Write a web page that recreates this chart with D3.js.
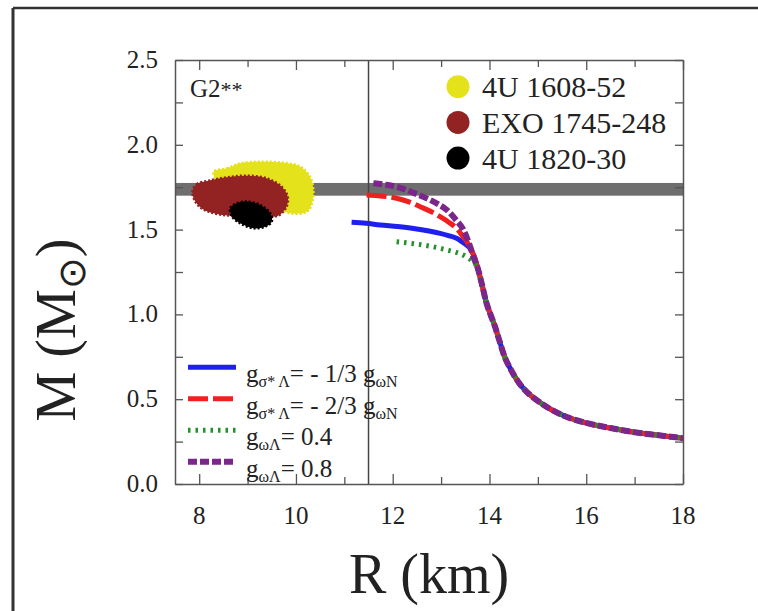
<!DOCTYPE html>
<html>
<head>
<meta charset="utf-8">
<script src="https://cdn.jsdelivr.net/npm/d3@7"></script>
<style>
  html, body { margin: 0; padding: 0; background: #fff; }
  svg { display: block; }
</style>
</head>
<body>
<div id="chart"></div>
<script>
// ---- data ----
const xTickValues = [8, 9, 10, 11, 12, 13, 14, 15, 16, 17, 18];
const xTickLabels = [8, 10, 12, 14, 16, 18];
const yTickValues = [0, 0.25, 0.5, 0.75, 1, 1.25, 1.5, 1.75, 2, 2.25, 2.5];
const yTickLabels = [0, 0.5, 1, 1.5, 2, 2.5];

const markerR = 11.5;              // vertical reference line
const bandM = [1.70, 1.775];       // grey mass band

// common low-mass branch of all four parameter sets
const tailR = [13.76, 13.85, 13.94, 14.02, 14.1, 14.2, 14.3, 14.45, 14.6, 14.8, 15.0, 15.3, 15.6, 16.0, 16.5, 17.0, 17.5, 18.0];
const tailM = [1.27, 1.17, 1.065, 1.0, 0.94, 0.85, 0.76, 0.67, 0.60, 0.535, 0.49, 0.435, 0.395, 0.36, 0.33, 0.305, 0.287, 0.27];

const blueR = [11.15, 11.45, 11.74, 12.1, 12.43, 12.75, 12.98, 13.15, 13.32, 13.45, 13.53, 13.62, 13.70];
const blueM = [1.543, 1.537, 1.527, 1.518, 1.507, 1.492, 1.478, 1.465, 1.449, 1.425, 1.409, 1.38, 1.33];
const redR = [11.46, 11.75, 12.08, 12.35, 12.57, 12.8, 12.98, 13.15, 13.32, 13.45, 13.53, 13.62, 13.70];
const redM = [1.704, 1.698, 1.685, 1.662, 1.635, 1.605, 1.576, 1.545, 1.507, 1.46, 1.43, 1.38, 1.33];
const greenR = [12.08, 12.35, 12.63, 12.9, 13.12, 13.3, 13.46, 13.58, 13.70];
const greenM = [1.429, 1.42, 1.409, 1.395, 1.38, 1.367, 1.35, 1.33, 1.30];
const purpleR = [11.6, 11.85, 12.08, 12.4, 12.77, 12.95, 13.12, 13.3, 13.46, 13.6, 13.68];
const purpleM = [1.773, 1.765, 1.753, 1.72, 1.675, 1.648, 1.616, 1.56, 1.50, 1.40, 1.33];

// observational regions (contours in R, M)
const yellowR = [8.30, 8.57, 8.85, 9.26, 9.74, 10.09, 10.29, 10.36, 10.33, 10.23, 9.88, 9.67, 9.05, 8.37];
const yellowM = [1.842, 1.861, 1.891, 1.900, 1.894, 1.871, 1.812, 1.733, 1.655, 1.606, 1.596, 1.626, 1.792, 1.792];
const brownR = [7.86, 7.95, 8.19, 8.57, 8.99, 9.40, 9.69, 9.83, 9.80, 9.63, 9.26, 8.37, 8.07, 7.92];
const brownM = [1.724, 1.768, 1.788, 1.808, 1.818, 1.802, 1.757, 1.694, 1.632, 1.582, 1.575, 1.592, 1.622, 1.665];
const blackR = [8.64, 8.78, 8.99, 9.26, 9.47, 9.50, 9.36, 9.12, 8.85, 8.68];
const blackM = [1.626, 1.655, 1.665, 1.645, 1.596, 1.547, 1.517, 1.508, 1.537, 1.576];

const sourceNames = ["4U 1608-52", "EXO 1745-248", "4U 1820-30"];
const sourceColors = ["#e4e21a", "#932222", "#000000"];

const zip = (xs, ys) => xs.map((v, i) => ({r: v, m: ys[i]}));

const series = [
  {key: "blue", pts: zip(blueR.concat(tailR), blueM.concat(tailM)), color: "#1f1fee", dash: null, width: 5,
   label: [["g", false], ["σ* Λ", true], ["= - 1/3 ", false], ["g", false], ["ωN", true]]},
  {key: "red", pts: zip(redR.concat(tailR), redM.concat(tailM)), color: "#f02020", dash: "20,5", width: 5,
   label: [["g", false], ["σ* Λ", true], ["= - 2/3 ", false], ["g", false], ["ωN", true]]},
  {key: "green", pts: zip(greenR.concat(tailR), greenM.concat(tailM)), color: "#22922a", dash: "2.5,5", width: 5,
   label: [["g", false], ["ωΛ", true], ["= 0.4", false]]},
  {key: "purple", pts: zip(purpleR.concat(tailR), purpleM.concat(tailM)), color: "#7a268a", dash: "9,3", width: 6,
   label: [["g", false], ["ωΛ", true], ["= 0.8", false]]}
];

const regions = [
  {pts: zip(yellowR, yellowM), color: sourceColors[0]},
  {pts: zip(brownR, brownM), color: sourceColors[1]},
  {pts: zip(blackR, blackM), color: sourceColors[2]}
];

// ---- layout ----
const W = 758, H = 611;
const margin = {top: 60, right: 75, bottom: 127, left: 175};
const width = W - margin.left - margin.right;
const height = H - margin.top - margin.bottom;
const serif = "'Liberation Serif', 'Times New Roman', Times, serif";

const svg = d3.select("#chart").append("svg")
  .attr("width", W).attr("height", H)
  .attr("viewBox", `0 0 ${W} ${H}`)
  .attr("font-family", serif);

// page frame lines
svg.append("line").attr("x1", 13).attr("x2", W).attr("y1", 8).attr("y2", 8)
  .attr("stroke", "#333").attr("stroke-width", 2.5);
svg.append("line").attr("x1", 13).attr("x2", 13).attr("y1", 8).attr("y2", H)
  .attr("stroke", "#333").attr("stroke-width", 3);

const g = svg.append("g").attr("transform", `translate(${margin.left},${margin.top})`);

const xScale = d3.scaleLinear().domain([7.5, 18]).range([0, width]);
const yScale = d3.scaleLinear().domain([0, 2.5]).range([height, 0]);

g.append("defs").append("clipPath").attr("id", "plotclip")
  .append("rect").attr("width", width).attr("height", height);

const plot = g.append("g").attr("clip-path", "url(#plotclip)");

// grey band
plot.append("rect")
  .attr("x", 0).attr("width", width)
  .attr("y", yScale(bandM[1])).attr("height", yScale(bandM[0]) - yScale(bandM[1]))
  .attr("fill", "#6e6e6e");

// regions
const area = d3.line().x(d => xScale(d.r)).y(d => yScale(d.m)).curve(d3.curveCatmullRomClosed.alpha(0.5));
plot.selectAll(".region").data(regions).enter().append("path")
  .attr("class", "region")
  .attr("d", d => area(d.pts))
  .attr("fill", d => d.color)
  .attr("stroke", d => d.color)
  .attr("stroke-width", 2.5)
  .attr("stroke-dasharray", "2,2");

// vertical reference line
plot.append("line")
  .attr("x1", xScale(markerR)).attr("x2", xScale(markerR))
  .attr("y1", 0).attr("y2", height)
  .attr("stroke", "#444").attr("stroke-width", 1.5);

// curves
const line = d3.line().x(d => xScale(d.r)).y(d => yScale(d.m)).curve(d3.curveMonotoneX);
plot.selectAll(".curve").data(series).enter().append("path")
  .attr("class", "curve")
  .attr("d", d => line(d.pts))
  .attr("fill", "none")
  .attr("stroke", d => d.color)
  .attr("stroke-width", d => d.width)
  .attr("stroke-dasharray", d => d.dash);

// axes: ticks inside on all four sides
const tickLen = v => (v % 2 === 0 ? 10 : 7);
const axisCol = "#555";

const axB = g.append("g").attr("transform", `translate(0,${height})`)
  .call(d3.axisBottom(xScale).tickValues(xTickValues).tickSizeInner(0).tickSizeOuter(0).tickFormat(""));
const axT = g.append("g")
  .call(d3.axisTop(xScale).tickValues(xTickValues).tickSizeInner(0).tickSizeOuter(0).tickFormat(""));
const axL = g.append("g")
  .call(d3.axisLeft(yScale).tickValues(yTickValues).tickSizeInner(0).tickSizeOuter(0).tickFormat(""));
const axR = g.append("g").attr("transform", `translate(${width},0)`)
  .call(d3.axisRight(yScale).tickValues(yTickValues).tickSizeInner(0).tickSizeOuter(0).tickFormat(""));

axB.selectAll(".tick line").attr("y2", d => -tickLen(d));
axT.selectAll(".tick line").attr("y2", d => tickLen(d));
axL.selectAll(".tick line").attr("x2", 8);
axR.selectAll(".tick line").attr("x2", -8);
[axB, axT, axL, axR].forEach(a => {
  a.select(".domain").attr("stroke", axisCol).attr("stroke-width", 1.5);
  a.selectAll(".tick line").attr("stroke", axisCol).attr("stroke-width", 1.3);
});

// tick labels
g.selectAll(".xlab").data(xTickLabels).enter().append("text")
  .attr("x", d => xScale(d)).attr("y", height + 40)
  .attr("text-anchor", "middle")
  .attr("font-size", 25).attr("fill", "#222")
  .text(d => d);
g.selectAll(".ylab").data(yTickLabels).enter().append("text")
  .attr("x", -17).attr("y", d => yScale(d) + 8)
  .attr("text-anchor", "end")
  .attr("font-size", 25).attr("fill", "#222")
  .text(d => d3.format(".1f")(d));

// axis titles
g.append("text")
  .attr("x", width / 2).attr("y", height + 109)
  .attr("text-anchor", "middle")
  .attr("font-size", 56).attr("fill", "#222")
  .text("R (km)");

const yt = g.append("text")
  .attr("transform", `translate(-100,${height / 2 + 58}) rotate(-90)`)
  .attr("text-anchor", "middle")
  .attr("font-size", 56).attr("fill", "#222");
yt.append("tspan").text("M (M");
yt.append("tspan").attr("font-size", 38).attr("dy", 10).text("⊙");
yt.append("tspan").attr("dy", -10).text(")");

// panel label
const pl = g.append("text").attr("x", 15).attr("y", 37).attr("font-size", 25).attr("fill", "#222");
pl.append("tspan").text("G2");
pl.append("tspan").attr("font-size", 22).text("**");

// source legend (top right)
const srcLeg = g.selectAll(".src").data(sourceNames).enter().append("g")
  .attr("transform", (d, i) => `translate(283,${26.7 + i * 35.7})`);
srcLeg.append("circle").attr("r", 11.5).attr("fill", (d, i) => sourceColors[i]);
srcLeg.append("text").attr("x", 24).attr("y", 10.5)
  .attr("font-size", 30).attr("fill", "#222").text(d => d);

// curve legend (bottom left)
const curLeg = g.selectAll(".cur").data(series).enter().append("g")
  .attr("transform", (d, i) => `translate(13,${307.3 + i * 31.5})`);
curLeg.append("line")
  .attr("x1", 0).attr("x2", 48)
  .attr("stroke", d => d.color)
  .attr("stroke-width", d => d.width)
  .attr("stroke-dasharray", d => d.dash);
const lt = curLeg.append("text").attr("x", 58).attr("y", 15)
  .attr("font-size", 25).attr("fill", "#222");
lt.each(function(d) {
  const t = d3.select(this);
  let shifted = false;
  d.label.forEach(([s, sub]) => {
    const sp = t.append("tspan").text(s);
    if (sub && !shifted) { sp.attr("font-size", 16).attr("dy", 5); shifted = true; }
    else if (!sub && shifted) { sp.attr("dy", -5); shifted = false; }
    else if (sub) sp.attr("font-size", 16);
  });
});
</script>
</body>
</html>
